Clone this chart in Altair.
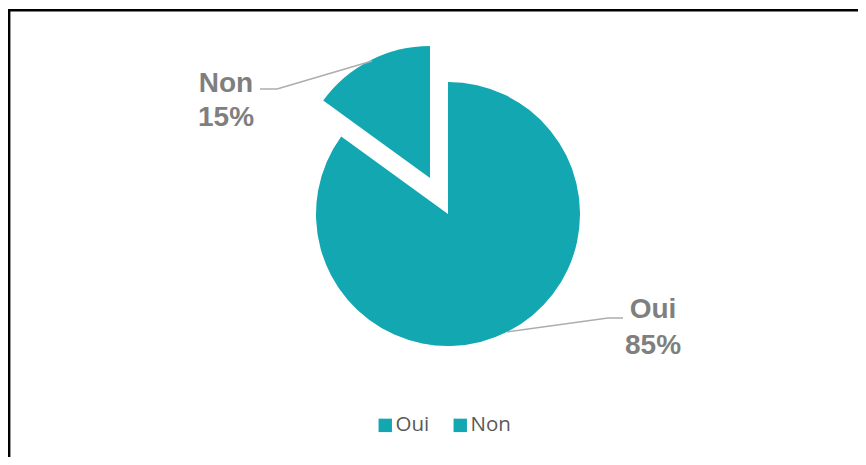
import altair as alt
import pandas as pd

categories = ["Oui", "Non"]
values = [85, 15]

TEAL = "#12A7B1"
LABEL_GRAY = "#7F7F7F"
LINE_GRAY = "#ADADAD"

df = pd.DataFrame({"cat": categories, "value": values})
df["end"] = df["value"].cumsum()
df["start"] = df["end"] - df["value"]
df["pct"] = df["value"].map(lambda v: f"{v:.0f}%")

W, H = 850, 449
R = 132

base = alt.Chart(df)

theta_scale = alt.Scale(domain=[0, 100], range=[0, 6.283185307179586])
color = alt.Color(
    "cat:N",
    scale=alt.Scale(domain=categories, range=[TEAL, TEAL]),
    legend=alt.Legend(
        title=None,
        orient="none",
        direction="horizontal",
        legendX=367,
        legendY=407,
        padding=0,
        symbolType="square",
        symbolSize=180,
        symbolStrokeWidth=0,
        labelFont="Open Sans",
        labelFontSize=20.5,
        labelColor="#595959",
        labelOffset=0,
        columnPadding=20,
    ),
)

def arc(cat, cx, cy):
    return base.transform_filter(alt.datum.cat == cat).mark_arc(radius=R, stroke=None).encode(
        theta=alt.Theta("start:Q", scale=theta_scale),
        theta2="end:Q",
        color=color,
        x=alt.value(cx),
        y=alt.value(cy),
    )

arc_oui = arc("Oui", 440, 206)
arc_non = arc("Non", 422, 170)

def txt(cat, field, cx, cy):
    return base.transform_filter(alt.datum.cat == cat).mark_text(
        font="Liberation Sans", fontSize=28, fontWeight="bold", color=LABEL_GRAY,
        align="center", baseline="alphabetic",
    ).encode(text=f"{field}:N", x=alt.value(cx), y=alt.value(cy))

labels = [
    txt("Non", "cat", 218, 84),
    txt("Non", "pct", 218, 118),
    txt("Oui", "cat", 645, 310),
    txt("Oui", "pct", 645, 346),
]

def seg(x1, y1, x2, y2):
    return alt.Chart(df).transform_filter(alt.datum.cat == "Oui").mark_rule(
        color=LINE_GRAY, strokeWidth=1.5
    ).encode(x=alt.value(x1), y=alt.value(y1), x2=alt.value(x2), y2=alt.value(y2))

lines = [
    seg(252, 81, 269, 81),
    seg(269, 81, 364, 53),
    seg(499, 324, 600, 310),
    seg(600, 310, 615, 310),
]

border = alt.Chart(df).transform_filter(alt.datum.cat == "Oui").mark_rect(
    fill=None, stroke="black", strokeWidth=2.4
).encode(x=alt.value(1.2), y=alt.value(2.3), x2=alt.value(W + 20), y2=alt.value(H + 20))

chart = alt.layer(border, arc_oui, arc_non, *lines, *labels).properties(
    width=W, height=H, padding=0, autosize=alt.AutoSizeParams(type="none")
).configure_view(stroke=None)

chart.save("out.html", embed_options={"renderer": "svg", "actions": False})
